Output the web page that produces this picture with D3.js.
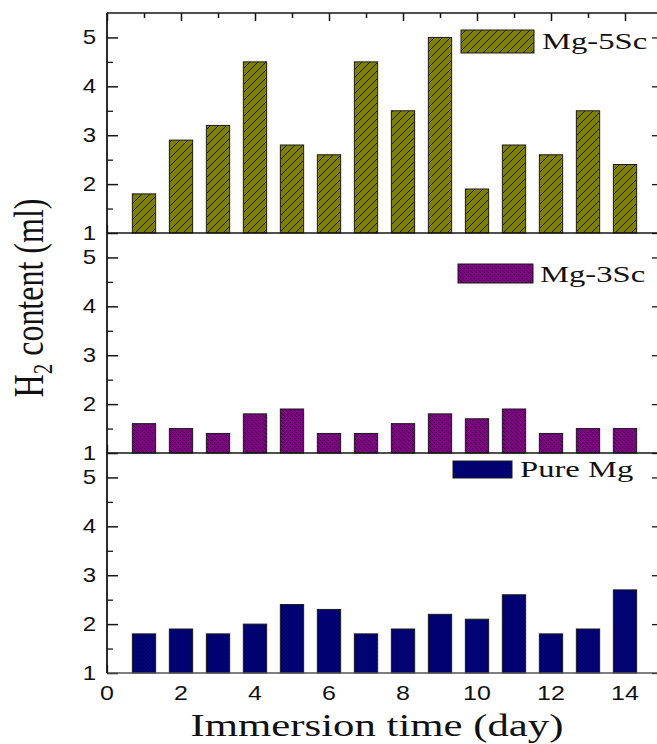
<!DOCTYPE html>
<html><head><meta charset="utf-8">
<script src="https://cdn.jsdelivr.net/npm/d3@7"></script>
<style>body{margin:0;background:#fff;overflow:hidden}</style>
</head><body><svg id="c" width="657" height="744"></svg>
<script>
// ---- data ----
const days = [1,2,3,4,5,6,7,8,9,10,11,12,13,14];
const mg5Sc = [1.8,2.9,3.2,4.5,2.8,2.6,4.5,3.5,5.0,1.9,2.8,2.6,3.5,2.4];
const mg3Sc = [1.6,1.5,1.4,1.8,1.9,1.4,1.4,1.6,1.8,1.7,1.9,1.4,1.5,1.5];
const pureMg = [1.8,1.9,1.8,2.0,2.4,2.3,1.8,1.9,2.2,2.1,2.6,1.8,1.9,2.7];
const seriesNames = ["Mg-5Sc","Mg-3Sc","Pure Mg"];
const xTicks = [0,2,4,6,8,10,12,14];
const yTicks = [1,2,3,4,5];
const xLabel = "Immersion time (day)";

// ---- layout / style ----
const svg = d3.select("#c");
svg.append("rect").attr("width",657).attr("height",744).attr("fill","#fff");
const L = 107, R = 662, T = 13, PH = 220;
const serif = "'Liberation Serif','Times New Roman',serif";
const sans = "'Liberation Sans',Arial,sans-serif";
const ink = "#161616";
const x = d3.scaleLinear().domain([0,15]).range([L,R]);
const barW = x(0.63) - x(0);

const defs = svg.append("defs");
function pat(id, size, fill, d, stroke, sw){
  const p = defs.append("pattern").attr("id",id).attr("patternUnits","userSpaceOnUse")
    .attr("width",size).attr("height",size);
  p.append("rect").attr("width",size).attr("height",size).attr("fill",fill);
  p.append("path").attr("d",d).attr("stroke",stroke).attr("stroke-width",sw).attr("fill","none");
}
pat("p5", 8, "#808000", "M0,8L8,0M-2,2L2,-2M6,10L10,6", "#1c1c00", 1);
pat("p3", 4, "#84008a", "M0,0L4,4M-1,3L1,5M3,-1L5,1", "#2a002a", 0.8);
pat("p0", 4, "#000088", "M0,0L4,4M-1,3L1,5M3,-1L5,1M0,4L4,0M-1,1L1,-1M3,5L5,3", "#000030", 0.5);

const panels = [
  {vals: mg5Sc, fill:"url(#p5)", name: seriesNames[0], leg:{x:461,y:30,w:73,h:23,tx:542,ty:49,fs:23,sx:1.42}},
  {vals: mg3Sc, fill:"url(#p3)", name: seriesNames[1], leg:{x:458,y:264,w:75,h:19,tx:540,ty:282,fs:23,sx:1.42}},
  {vals: pureMg, fill:"url(#p0)", name: seriesNames[2], leg:{x:453,y:461,w:59,h:17,tx:520,ty:477,fs:24,sx:1.36}}
];

function stext(g, tx, ty, str, fs, fam, anchor, sx){
  return g.append("text").attr("transform",`translate(${tx},${ty}) scale(${sx},1)`)
    .attr("text-anchor",anchor).attr("font-family",fam).attr("font-size",fs)
    .attr("fill","#111").text(str);
}

panels.forEach((p,i)=>{
  const top = T + i*PH, bot = T + (i+1)*PH;
  const y = d3.scaleLinear().domain([1,5.5]).range([bot, top]);
  const g = svg.append("g");
  const ax = d3.axisRight(y).tickValues(yTicks).tickSize(11).tickFormat("");
  g.append("g").attr("transform",`translate(${L},0)`).call(ax)
    .call(s=>{s.select(".domain").remove(); s.selectAll("line").attr("stroke",ink).attr("stroke-width",1.5);});
  const axm = d3.axisRight(y).tickValues([1.5,2.5,3.5,4.5]).tickSize(6).tickFormat("");
  g.append("g").attr("transform",`translate(${L},0)`).call(axm)
    .call(s=>{s.select(".domain").remove(); s.selectAll("line").attr("stroke",ink).attr("stroke-width",1.3);});
  const ar = d3.axisLeft(y).tickValues(yTicks).tickSize(10).tickFormat("");
  g.append("g").attr("transform",`translate(${R},0)`).call(ar)
    .call(s=>{s.select(".domain").remove(); s.selectAll("line").attr("stroke",ink).attr("stroke-width",1.3);});
  const ab = d3.axisTop(x).tickValues(xTicks).tickSize(8).tickFormat("");
  g.append("g").attr("transform",`translate(0,${bot})`).call(ab)
    .call(s=>{s.select(".domain").remove(); s.selectAll("line").attr("stroke",ink).attr("stroke-width",1.3);});
  yTicks.forEach(v=>{
    stext(g, 96, y(v)+7, d3.format("d")(v), 20, sans, "end", 1.2);
  });
  g.selectAll("rect.bar").data(p.vals).enter().append("rect").attr("class","bar")
    .attr("x",(d,j)=>x(days[j]) - barW/2).attr("width",barW)
    .attr("y",d=>y(d)).attr("height",d=>y(1)-y(d))
    .attr("fill",p.fill).attr("stroke","#1a1a1a").attr("stroke-width",1);
  g.append("line").attr("x1",L).attr("x2",R+5).attr("y1",bot).attr("y2",bot)
    .attr("stroke", i===2 ? "#555" : ink).attr("stroke-width",1.6);
  const lg = p.leg;
  g.append("rect").attr("x",lg.x).attr("y",lg.y).attr("width",lg.w).attr("height",lg.h)
    .attr("fill",p.fill).attr("stroke","#1a1a1a").attr("stroke-width",1);
  stext(g, lg.tx, lg.ty, p.name, lg.fs, serif, "start", lg.sx);
});

svg.append("line").attr("x1",L).attr("x2",R+5).attr("y1",T).attr("y2",T).attr("stroke",ink).attr("stroke-width",1.6);
const at = d3.axisBottom(x).tickValues(xTicks).tickSize(8).tickFormat("");
svg.append("g").attr("transform",`translate(0,${T})`).call(at)
  .call(s=>{s.select(".domain").remove(); s.selectAll("line").attr("stroke",ink).attr("stroke-width",1.5);});
const atm = d3.axisBottom(x).tickValues(days.filter(d=>d%2===1)).tickSize(5).tickFormat("");
svg.append("g").attr("transform",`translate(0,${T})`).call(atm)
  .call(s=>{s.select(".domain").remove(); s.selectAll("line").attr("stroke",ink).attr("stroke-width",1.5);});
svg.append("line").attr("x1",L).attr("x2",L).attr("y1",T).attr("y2",T+3*PH).attr("stroke",ink).attr("stroke-width",1.8);
svg.append("line").attr("x1",R).attr("x2",R).attr("y1",T).attr("y2",T+3*PH).attr("stroke",ink).attr("stroke-width",1.8);

xTicks.forEach(v=>{
  stext(svg, x(v), 700, d3.format("d")(v), 20, sans, "middle", 1.25);
});
stext(svg, 377, 736, xLabel, 31, serif, "middle", 1.38);

const yt = svg.append("text").attr("transform",`translate(43,298) scale(1.33,1) rotate(-90)`)
  .attr("text-anchor","middle").attr("font-family",serif).attr("font-size",32).attr("fill","#111");
yt.append("tspan").text("H");
yt.append("tspan").attr("font-size",21).attr("dy",7).text("2");
yt.append("tspan").attr("dy",-7).text(" content (ml)");
</script></body></html>
